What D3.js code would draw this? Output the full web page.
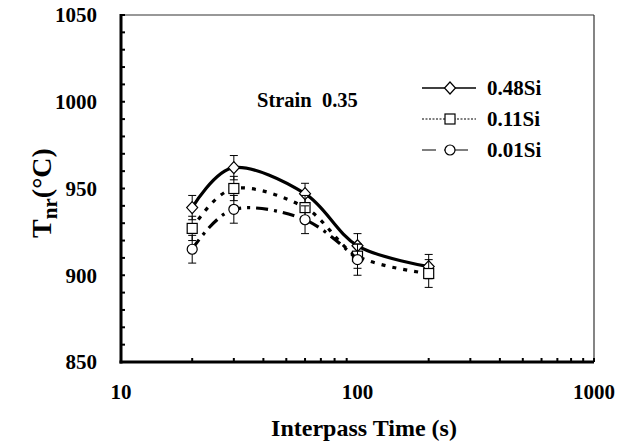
<!DOCTYPE html>
<html>
<head>
<meta charset="utf-8">
<script src="https://cdn.jsdelivr.net/npm/d3@7"></script>
<style>
  body { margin: 0; background: #fff; }
</style>
</head>
<body>
<div id="chart"></div>
<script>
// interpass time (s) and Tnr values (degC)
var times = [20, 30, 60, 100, 200];
var si048 = [939, 962, 947, 917, 905];
var si011 = [927, 950, 939, 911, 901];
var si001 = [915, 938, 932, 909];
var err048 = [7, 7, 6, 7, 7];
var err011 = [7, 7, 7, 7, 8];
var err001 = [8, 8, 8, 9];
var seriesNames = ["0.48Si", "0.11Si", "0.01Si"];
var xTickLabels = [10, 100, 1000];
var yTickLabels = [850, 900, 950, 1000, 1050];

var margin = {top: 15, right: 30, bottom: 79, left: 121};
var width = 624 - margin.left - margin.right;
var height = 441 - margin.top - margin.bottom;

var svg = d3.select("#chart").append("svg")
    .attr("width", 624)
    .attr("height", 441)
    .attr("font-family", "'Liberation Serif', 'DejaVu Serif', serif")
    .attr("font-weight", "bold");

var g = svg.append("g")
    .attr("transform", "translate(" + margin.left + "," + margin.top + ")");

// scales
var x = d3.scaleLog().domain([10, 1000]).range([0, width]);
var y = d3.scaleLinear().domain([850, 1050]).range([height, 0]);

// frame: thin top/right, thick left/bottom
g.append("line").attr("x1", 0).attr("x2", width).attr("y1", 0).attr("y2", 0)
    .attr("stroke", "#333").attr("stroke-width", 1.2);
g.append("line").attr("x1", width).attr("x2", width).attr("y1", 0).attr("y2", height)
    .attr("stroke", "#333").attr("stroke-width", 1.2);

// minor ticks pointing inward
var xMinor = [];
[10, 100].forEach(function(d){ for (var k = 2; k <= 9; k++) xMinor.push(d * k); });
xMinor.push(1000);
g.selectAll(".xtick").data(xMinor).enter().append("line")
    .attr("x1", function(d){ return x(d); }).attr("x2", function(d){ return x(d); })
    .attr("y1", height).attr("y2", height - 4)
    .attr("stroke", "#000").attr("stroke-width", 2);

var yMinor = d3.range(860, 1051, 10);
g.selectAll(".ytick").data(yMinor).enter().append("line")
    .attr("x1", 0).attr("x2", 4)
    .attr("y1", function(d){ return y(d); }).attr("y2", function(d){ return y(d); })
    .attr("stroke", "#000").attr("stroke-width", 2);

g.append("line").attr("x1", 0).attr("x2", 0).attr("y1", -1).attr("y2", height + 1.5)
    .attr("stroke", "#000").attr("stroke-width", 3);
g.append("line").attr("x1", -1.5).attr("x2", width).attr("y1", height).attr("y2", height)
    .attr("stroke", "#000").attr("stroke-width", 3);

// tick labels
g.selectAll(".ylab").data(yTickLabels).enter().append("text")
    .attr("x", -24).attr("y", function(d){ return y(d); })
    .attr("dy", "0.35em")
    .attr("text-anchor", "end")
    .attr("font-size", 21)
    .text(function(d){ return d; });

g.selectAll(".xlab").data(xTickLabels).enter().append("text")
    .attr("x", function(d){ return x(d); }).attr("y", height + 30)
    .attr("dy", "0.35em")
    .attr("text-anchor", "middle")
    .attr("font-size", 21)
    .text(function(d){ return d; });

// axis titles
svg.append("text")
    .attr("x", 364).attr("y", 436)
    .attr("text-anchor", "middle")
    .attr("font-size", 24)
    .text("Interpass Time (s)");

var yt = svg.append("text")
    .attr("transform", "translate(51,193) rotate(-90)")
    .attr("text-anchor", "middle")
    .attr("font-size", 28);
yt.append("tspan").text("T");
yt.append("tspan").attr("dy", 6).attr("font-size", 21).text("nr");
yt.append("tspan").attr("dy", -6).text("(°C)");

// series
var series = [
  {name: seriesNames[0], vals: si048, err: err048, dash: null, legendDash: null, marker: "diamond"},
  {name: seriesNames[1], vals: si011, err: err011, dash: "4,7", legendDash: "2,1.5", marker: "square"},
  {name: seriesNames[2], vals: si001, err: err001, dash: "12,6,3,6", legendDash: "14,8,2,8", marker: "circle"}
];

var line = d3.line()
    .x(function(d){ return x(d.t); })
    .y(function(d){ return y(d.v); })
    .curve(d3.curveCardinal.tension(0));

function drawMarker(sel, type, cx, cy) {
  if (type === "diamond") {
    sel.append("path")
        .attr("d", "M" + cx + "," + (cy - 6) + "L" + (cx + 5.5) + "," + cy + "L" + cx + "," + (cy + 6) + "L" + (cx - 5.5) + "," + cy + "Z")
        .attr("fill", "#fff").attr("stroke", "#000").attr("stroke-width", 1.2);
  } else if (type === "square") {
    sel.append("rect")
        .attr("x", cx - 5).attr("y", cy - 5).attr("width", 10).attr("height", 10)
        .attr("fill", "#fff").attr("stroke", "#000").attr("stroke-width", 1.2);
  } else {
    sel.append("circle")
        .attr("cx", cx).attr("cy", cy).attr("r", 5)
        .attr("fill", "#fff").attr("stroke", "#000").attr("stroke-width", 1.2);
  }
}

series.forEach(function(s){
  var pts = s.vals.map(function(v, i){ return {t: times[i], v: v, e: s.err[i]}; });

  // error bars
  pts.forEach(function(p){
    var px = x(p.t);
    g.append("line").attr("x1", px).attr("x2", px)
        .attr("y1", y(p.v + p.e)).attr("y2", y(p.v - p.e))
        .attr("stroke", "#000").attr("stroke-width", 1);
    [p.v + p.e, p.v - p.e].forEach(function(c){
      g.append("line").attr("x1", px - 4).attr("x2", px + 4)
          .attr("y1", y(c)).attr("y2", y(c))
          .attr("stroke", "#000").attr("stroke-width", 1);
    });
  });

  g.append("path")
      .datum(pts)
      .attr("d", line)
      .attr("fill", "none")
      .attr("stroke", "#000")
      .attr("stroke-width", 3.2)
      .attr("stroke-dasharray", s.dash);

  pts.forEach(function(p){ drawMarker(g, s.marker, x(p.t), y(p.v)); });
});

// legend
var legend = svg.append("g").attr("transform", "translate(422,88)");
series.forEach(function(s, i){
  var ly = i * 31;
  legend.append("line")
      .attr("x1", 0).attr("x2", 54).attr("y1", ly).attr("y2", ly)
      .attr("stroke", "#000").attr("stroke-width", s.dash ? 1.2 : 1.6)
      .attr("stroke-dasharray", s.legendDash);
  drawMarker(legend, s.marker, 28, ly);
  legend.append("text")
      .attr("x", 65).attr("y", ly).attr("dy", "0.35em")
      .attr("font-size", 21)
      .text(s.name);
});

svg.append("text")
    .attr("x", 257).attr("y", 100).attr("dy", "0.35em")
    .attr("font-size", 20.5)
    .attr("xml:space", "preserve")
    .style("white-space", "pre")
    .text("Strain  0.35");
</script>
</body>
</html>
